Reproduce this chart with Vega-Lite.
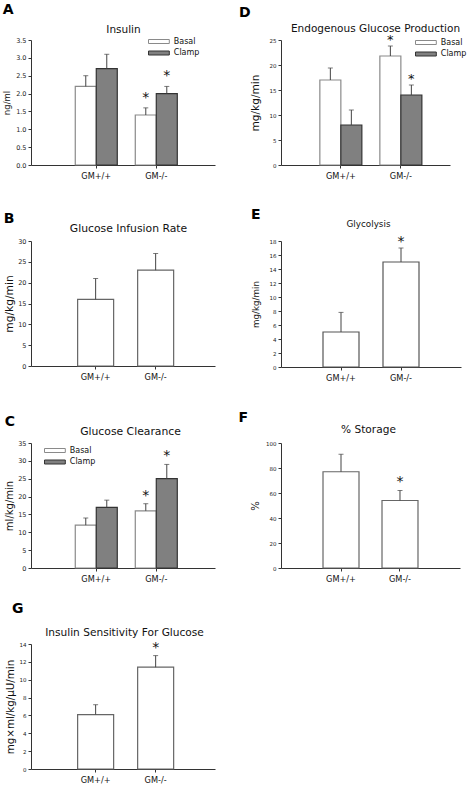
{
  "$schema": "https://vega.github.io/schema/vega-lite/v6.json",
  "padding": {"left": 2, "top": 3, "right": 0, "bottom": 0},
  "config": {
    "font": "DejaVu Sans",
    "view": {"stroke": null},
    "axis": {"grid": false, "domainColor": "#333333", "tickColor": "#333333", "tickSize": 3, "labelColor": "#222222", "titleColor": "#111111", "titleFontWeight": "normal", "labelPadding": 2},
    "axisY": {"labelOverlap": false},
    "title": {"anchor": "start", "frame": "bounds", "fontSize": 14, "fontWeight": "bold", "color": "#000000", "baseline": "alphabetic"},
    "text": {"fontSize": 14, "fill": "#111111", "baseline": "alphabetic"},
    "legend": {"title": null, "padding": 0, "labelFontSize": 8, "labelColor": "#111111", "symbolStrokeWidth": 1, "symbolSize": 64, "symbolType": "M-2.6,-0.5H2.6V0.5H-2.6Z", "rowPadding": 2.5, "labelOffset": 10.4}
  },
  "resolve": {"scale": {"fill": "independent", "stroke": "independent"}, "legend": {"fill": "independent", "stroke": "independent"}},
  "datasets": {
    "insulin": [
      {"group": "GM+/+", "cond": "Basal", "mean": 2.2, "upper": 2.5, "star": ""},
      {"group": "GM+/+", "cond": "Clamp", "mean": 2.7, "upper": 3.1, "star": ""},
      {"group": "GM-/-", "cond": "Basal", "mean": 1.4, "upper": 1.6, "star": "*"},
      {"group": "GM-/-", "cond": "Clamp", "mean": 2.0, "upper": 2.2, "star": "*"}
    ],
    "egp": [
      {"group": "GM+/+", "cond": "Basal", "mean": 17, "upper": 19.4, "star": ""},
      {"group": "GM+/+", "cond": "Clamp", "mean": 8, "upper": 11, "star": ""},
      {"group": "GM-/-", "cond": "Basal", "mean": 21.8, "upper": 23.8, "star": "*"},
      {"group": "GM-/-", "cond": "Clamp", "mean": 14, "upper": 16, "star": "*"}
    ],
    "gir": [
      {"group": "GM+/+", "mean": 16, "upper": 21, "star": ""},
      {"group": "GM-/-", "mean": 23, "upper": 27, "star": ""}
    ],
    "glycolysis": [
      {"group": "GM+/+", "mean": 5, "upper": 7.8, "star": ""},
      {"group": "GM-/-", "mean": 15, "upper": 17, "star": "*"}
    ],
    "clearance": [
      {"group": "GM+/+", "cond": "Basal", "mean": 12, "upper": 14, "star": ""},
      {"group": "GM+/+", "cond": "Clamp", "mean": 17, "upper": 19, "star": ""},
      {"group": "GM-/-", "cond": "Basal", "mean": 16, "upper": 18, "star": "*"},
      {"group": "GM-/-", "cond": "Clamp", "mean": 25, "upper": 29, "star": "*"}
    ],
    "storage": [
      {"group": "GM+/+", "mean": 77, "upper": 91, "star": ""},
      {"group": "GM-/-", "mean": 54, "upper": 62, "star": "*"}
    ],
    "isg": [
      {"group": "GM+/+", "mean": 6.1, "upper": 7.2, "star": ""},
      {"group": "GM-/-", "mean": 11.4, "upper": 12.7, "star": "*"}
    ]
  },
  "columns": 2,
  "bounds": "flush",
  "spacing": {"row": 76, "column": 66},
  "concat": [
    {
      "title": {"text": "A", "offset": 7},
      "width": 184, "height": 125,
      "data": {"name": "insulin"},
      "encoding": {"xOffset": {"field": "cond", "type": "nominal", "sort": ["Basal", "Clamp"], "scale": {"paddingInner": 0, "paddingOuter": 0}}},
      "layer": [
        {"mark": {"type": "bar", "strokeWidth": 1.2},
         "encoding": {
           "x": {"field": "group", "type": "nominal", "sort": ["GM+/+", "GM-/-"], "scale": {"paddingInner": 0.3, "paddingOuter": 0.683, "align": 0.54}, "axis": {"title": null, "labelAngle": 0, "labelFontSize": 8.2, "labelPadding": 4, "labelColor": "#111111"}},
           "y": {"field": "mean", "type": "quantitative", "scale": {"domain": [0, 3.5], "nice": false}, "axis": {"title": "ng/ml", "titleFontSize": 8.5, "titlePadding": 4, "values": [0, 0.5, 1, 1.5, 2, 2.5, 3, 3.5], "format": ".1f", "labelFontSize": 6.5}},
           "fill": {"field": "cond", "type": "nominal", "scale": {"domain": ["Basal", "Clamp"], "range": ["#ffffff", "#808080"]}, "legend": {"orient": "none", "legendX": 123.4, "legendY": -3}},
           "stroke": {"field": "cond", "type": "nominal", "scale": {"domain": ["Basal", "Clamp"], "range": ["#8a8a8a", "#333333"]}, "legend": {"orient": "none", "legendX": 123.4, "legendY": -3}}
         }},
        {"mark": {"type": "rule", "color": "#444444"},
         "encoding": {"x": {"field": "group", "type": "nominal", "sort": ["GM+/+", "GM-/-"], "axis": null}, "y": {"field": "mean", "type": "quantitative", "scale": {"domain": [0, 3.5], "nice": false}, "axis": {"title": "ng/ml", "titleFontSize": 8.5, "titlePadding": 4, "values": [0, 0.5, 1, 1.5, 2, 2.5, 3, 3.5], "format": ".1f", "labelFontSize": 6.5}}, "y2": {"field": "upper"}}},
        {"mark": {"type": "tick", "orient": "horizontal", "size": 5, "thickness": 1, "color": "#444444"},
         "encoding": {"x": {"field": "group", "type": "nominal", "sort": ["GM+/+", "GM-/-"], "axis": null}, "y": {"field": "upper", "type": "quantitative", "scale": {"domain": [0, 3.5], "nice": false}, "axis": {"title": "ng/ml", "titleFontSize": 8.5, "titlePadding": 4, "values": [0, 0.5, 1, 1.5, 2, 2.5, 3, 3.5], "format": ".1f", "labelFontSize": 6.5}}}},
        {"mark": {"type": "text", "dy": -6},
         "encoding": {"x": {"field": "group", "type": "nominal", "sort": ["GM+/+", "GM-/-"], "axis": {"orient": "top", "domain": false, "ticks": false, "labels": false, "title": "Insulin", "titleFontSize": 10.5, "titlePadding": 6}}, "y": {"field": "upper", "type": "quantitative", "scale": {"domain": [0, 3.5], "nice": false}, "axis": {"title": "ng/ml", "titleFontSize": 8.5, "titlePadding": 4, "values": [0, 0.5, 1, 1.5, 2, 2.5, 3, 3.5], "format": ".1f", "labelFontSize": 6.5}}, "text": {"field": "star"}}}
      ],
      "resolve": {"axis": {"x": "independent"}}
    },
    {
      "title": {"text": "D", "offset": 3, "dx": -11},
      "width": 169, "height": 125,
      "data": {"name": "egp"},
      "encoding": {"xOffset": {"field": "cond", "type": "nominal", "sort": ["Basal", "Clamp"], "scale": {"paddingInner": 0, "paddingOuter": 0}}},
      "layer": [
        {"mark": {"type": "bar", "strokeWidth": 1.2},
         "encoding": {
           "x": {"field": "group", "type": "nominal", "sort": ["GM+/+", "GM-/-"], "scale": {"paddingInner": 0.3, "paddingOuter": 0.558, "align": 0.58}, "axis": {"title": null, "labelAngle": 0, "labelFontSize": 8.2, "labelPadding": 4, "labelColor": "#111111"}},
           "y": {"field": "mean", "type": "quantitative", "scale": {"domain": [0, 25], "nice": false}, "axis": {"title": "mg/kg/min", "titleFontSize": 10.6, "titlePadding": 9, "values": [0, 5, 10, 15, 20, 25], "labelFontSize": 5.5}},
           "fill": {"field": "cond", "type": "nominal", "scale": {"domain": ["Basal", "Clamp"], "range": ["#ffffff", "#808080"]}, "legend": {"orient": "none", "legendX": 140.4, "legendY": -2}},
           "stroke": {"field": "cond", "type": "nominal", "scale": {"domain": ["Basal", "Clamp"], "range": ["#8a8a8a", "#333333"]}, "legend": {"orient": "none", "legendX": 140.4, "legendY": -2}}
         }},
        {"mark": {"type": "rule", "color": "#444444"},
         "encoding": {"x": {"field": "group", "type": "nominal", "sort": ["GM+/+", "GM-/-"], "axis": null}, "y": {"field": "mean", "type": "quantitative", "scale": {"domain": [0, 25], "nice": false}, "axis": {"title": "mg/kg/min", "titleFontSize": 10.6, "titlePadding": 9, "values": [0, 5, 10, 15, 20, 25], "labelFontSize": 5.5}}, "y2": {"field": "upper"}}},
        {"mark": {"type": "tick", "orient": "horizontal", "size": 5, "thickness": 1, "color": "#444444"},
         "encoding": {"x": {"field": "group", "type": "nominal", "sort": ["GM+/+", "GM-/-"], "axis": null}, "y": {"field": "upper", "type": "quantitative", "scale": {"domain": [0, 25], "nice": false}, "axis": {"title": "mg/kg/min", "titleFontSize": 10.6, "titlePadding": 9, "values": [0, 5, 10, 15, 20, 25], "labelFontSize": 5.5}}}},
        {"mark": {"type": "text", "fontSize": 13, "dy": -2},
         "encoding": {"x": {"field": "group", "type": "nominal", "sort": ["GM+/+", "GM-/-"], "axis": {"orient": "top", "domain": false, "ticks": false, "labels": false, "title": "Endogenous Glucose Production", "titleFontSize": 10.5, "titlePadding": 7, "titleX": 94}}, "y": {"field": "upper", "type": "quantitative", "scale": {"domain": [0, 25], "nice": false}, "axis": {"title": "mg/kg/min", "titleFontSize": 10.6, "titlePadding": 9, "values": [0, 5, 10, 15, 20, 25], "labelFontSize": 5.5}}, "text": {"field": "star"}}}
      ],
      "resolve": {"axis": {"x": "independent"}}
    },
    {
      "title": {"text": "B", "offset": -4},
      "width": 184, "height": 125,
      "data": {"name": "gir"},
      "layer": [
        {"mark": {"type": "bar", "strokeWidth": 1.2, "fill": "#ffffff", "stroke": "#666666"},
         "encoding": {
           "x": {"field": "group", "type": "nominal", "sort": ["GM+/+", "GM-/-"], "scale": {"paddingInner": 0.4, "paddingOuter": 0.733, "align": 0.53}, "axis": {"title": null, "labelAngle": 0, "labelFontSize": 8.2, "labelPadding": 4, "labelColor": "#111111"}},
           "y": {"field": "mean", "type": "quantitative", "scale": {"domain": [0, 30], "nice": false}, "axis": {"title": "mg/kg/min", "titleFontSize": 10.7, "titlePadding": 3, "values": [0, 5, 10, 15, 20, 25, 30], "labelFontSize": 6.5}}
         }},
        {"mark": {"type": "rule", "color": "#444444"},
         "encoding": {"x": {"field": "group", "type": "nominal", "sort": ["GM+/+", "GM-/-"], "axis": null}, "y": {"field": "mean", "type": "quantitative", "scale": {"domain": [0, 30], "nice": false}, "axis": {"title": "mg/kg/min", "titleFontSize": 10.7, "titlePadding": 3, "values": [0, 5, 10, 15, 20, 25, 30], "labelFontSize": 6.5}}, "y2": {"field": "upper"}}},
        {"mark": {"type": "tick", "orient": "horizontal", "size": 5, "thickness": 1, "color": "#444444"},
         "encoding": {"x": {"field": "group", "type": "nominal", "sort": ["GM+/+", "GM-/-"], "axis": null}, "y": {"field": "upper", "type": "quantitative", "scale": {"domain": [0, 30], "nice": false}, "axis": {"title": "mg/kg/min", "titleFontSize": 10.7, "titlePadding": 3, "values": [0, 5, 10, 15, 20, 25, 30], "labelFontSize": 6.5}}}},
        {"mark": {"type": "text", "dy": -4},
         "encoding": {"x": {"field": "group", "type": "nominal", "sort": ["GM+/+", "GM-/-"], "axis": {"orient": "top", "domain": false, "ticks": false, "labels": false, "title": "Glucose Infusion Rate", "titleFontSize": 10.8, "titlePadding": 8, "titleX": 97}}, "y": {"field": "upper", "type": "quantitative", "scale": {"domain": [0, 30], "nice": false}, "axis": {"title": "mg/kg/min", "titleFontSize": 10.7, "titlePadding": 3, "values": [0, 5, 10, 15, 20, 25, 30], "labelFontSize": 6.5}}, "text": {"field": "star"}}}
      ],
      "resolve": {"axis": {"x": "independent"}}
    },
    {
      "title": {"text": "E", "offset": -3},
      "width": 180, "height": 126,
      "data": {"name": "glycolysis"},
      "layer": [
        {"mark": {"type": "bar", "strokeWidth": 1.2, "fill": "#ffffff", "stroke": "#555555"},
         "encoding": {
           "x": {"field": "group", "type": "nominal", "sort": ["GM+/+", "GM-/-"], "scale": {"paddingInner": 0.4, "paddingOuter": 0.7}, "axis": {"title": null, "labelAngle": 0, "labelFontSize": 8.2, "labelPadding": 4, "labelColor": "#111111"}},
           "y": {"field": "mean", "type": "quantitative", "scale": {"domain": [0, 18], "nice": false}, "axis": {"title": "mg/kg/min", "titleFontSize": 8.7, "titlePadding": 9, "values": [0, 2, 4, 6, 8, 10, 12, 14, 16, 18], "labelFontSize": 5.5}}
         }},
        {"mark": {"type": "rule", "color": "#444444"},
         "encoding": {"x": {"field": "group", "type": "nominal", "sort": ["GM+/+", "GM-/-"], "axis": null}, "y": {"field": "mean", "type": "quantitative", "scale": {"domain": [0, 18], "nice": false}, "axis": {"title": "mg/kg/min", "titleFontSize": 8.7, "titlePadding": 9, "values": [0, 2, 4, 6, 8, 10, 12, 14, 16, 18], "labelFontSize": 5.5}}, "y2": {"field": "upper"}}},
        {"mark": {"type": "tick", "orient": "horizontal", "size": 5, "thickness": 1, "color": "#444444"},
         "encoding": {"x": {"field": "group", "type": "nominal", "sort": ["GM+/+", "GM-/-"], "axis": null}, "y": {"field": "upper", "type": "quantitative", "scale": {"domain": [0, 18], "nice": false}, "axis": {"title": "mg/kg/min", "titleFontSize": 8.7, "titlePadding": 9, "values": [0, 2, 4, 6, 8, 10, 12, 14, 16, 18], "labelFontSize": 5.5}}}},
        {"mark": {"type": "text", "dy": -2},
         "encoding": {"x": {"field": "group", "type": "nominal", "sort": ["GM+/+", "GM-/-"], "axis": {"orient": "top", "domain": false, "ticks": false, "labels": false, "title": "Glycolysis", "titleFontSize": 8.8, "titlePadding": 13, "titleX": 87}}, "y": {"field": "upper", "type": "quantitative", "scale": {"domain": [0, 18], "nice": false}, "axis": {"title": "mg/kg/min", "titleFontSize": 8.7, "titlePadding": 9, "values": [0, 2, 4, 6, 8, 10, 12, 14, 16, 18], "labelFontSize": 5.5}}, "text": {"field": "star"}}}
      ],
      "resolve": {"axis": {"x": "independent"}}
    },
    {
      "title": {"text": "C", "offset": -4},
      "width": 184, "height": 125,
      "data": {"name": "clearance"},
      "encoding": {"xOffset": {"field": "cond", "type": "nominal", "sort": ["Basal", "Clamp"], "scale": {"paddingInner": 0, "paddingOuter": 0}}},
      "layer": [
        {"mark": {"type": "bar", "strokeWidth": 1.2},
         "encoding": {
           "x": {"field": "group", "type": "nominal", "sort": ["GM+/+", "GM-/-"], "scale": {"paddingInner": 0.3, "paddingOuter": 0.683, "align": 0.54}, "axis": {"title": null, "labelAngle": 0, "labelFontSize": 8.2, "labelPadding": 4, "labelColor": "#111111"}},
           "y": {"field": "mean", "type": "quantitative", "scale": {"domain": [0, 35], "nice": false}, "axis": {"title": "ml/kg/min", "titleFontSize": 10, "titlePadding": 3, "values": [0, 5, 10, 15, 20, 25, 30, 35], "labelFontSize": 6.5}},
           "fill": {"field": "cond", "type": "nominal", "scale": {"domain": ["Basal", "Clamp"], "range": ["#ffffff", "#808080"]}, "legend": {"orient": "none", "legendX": 19.4, "legendY": 3}},
           "stroke": {"field": "cond", "type": "nominal", "scale": {"domain": ["Basal", "Clamp"], "range": ["#8a8a8a", "#333333"]}, "legend": {"orient": "none", "legendX": 19.4, "legendY": 3}}
         }},
        {"mark": {"type": "rule", "color": "#444444"},
         "encoding": {"x": {"field": "group", "type": "nominal", "sort": ["GM+/+", "GM-/-"], "axis": null}, "y": {"field": "mean", "type": "quantitative", "scale": {"domain": [0, 35], "nice": false}, "axis": {"title": "ml/kg/min", "titleFontSize": 10, "titlePadding": 3, "values": [0, 5, 10, 15, 20, 25, 30, 35], "labelFontSize": 6.5}}, "y2": {"field": "upper"}}},
        {"mark": {"type": "tick", "orient": "horizontal", "size": 5, "thickness": 1, "color": "#444444"},
         "encoding": {"x": {"field": "group", "type": "nominal", "sort": ["GM+/+", "GM-/-"], "axis": null}, "y": {"field": "upper", "type": "quantitative", "scale": {"domain": [0, 35], "nice": false}, "axis": {"title": "ml/kg/min", "titleFontSize": 10, "titlePadding": 3, "values": [0, 5, 10, 15, 20, 25, 30, 35], "labelFontSize": 6.5}}}},
        {"mark": {"type": "text", "dy": -4},
         "encoding": {"x": {"field": "group", "type": "nominal", "sort": ["GM+/+", "GM-/-"], "axis": {"orient": "top", "domain": false, "ticks": false, "labels": false, "title": "Glucose Clearance", "titleFontSize": 10.8, "titlePadding": 7, "titleX": 99}}, "y": {"field": "upper", "type": "quantitative", "scale": {"domain": [0, 35], "nice": false}, "axis": {"title": "ml/kg/min", "titleFontSize": 10, "titlePadding": 3, "values": [0, 5, 10, 15, 20, 25, 30, 35], "labelFontSize": 6.5}}, "text": {"field": "star"}}}
      ],
      "resolve": {"axis": {"x": "independent"}}
    },
    {
      "title": {"text": "F", "offset": -1, "dx": -12},
      "width": 179, "height": 125,
      "data": {"name": "storage"},
      "layer": [
        {"mark": {"type": "bar", "strokeWidth": 1.2, "fill": "#ffffff", "stroke": "#666666"},
         "encoding": {
           "x": {"field": "group", "type": "nominal", "sort": ["GM+/+", "GM-/-"], "scale": {"paddingInner": 0.39, "paddingOuter": 0.712}, "axis": {"title": null, "labelAngle": 0, "labelFontSize": 8.2, "labelPadding": 4, "labelColor": "#111111"}},
           "y": {"field": "mean", "type": "quantitative", "scale": {"domain": [0, 100], "nice": false}, "axis": {"title": "%", "titleFontSize": 10, "titlePadding": 5, "values": [0, 20, 40, 60, 80, 100], "labelFontSize": 5.5}}
         }},
        {"mark": {"type": "rule", "color": "#444444"},
         "encoding": {"x": {"field": "group", "type": "nominal", "sort": ["GM+/+", "GM-/-"], "axis": null}, "y": {"field": "mean", "type": "quantitative", "scale": {"domain": [0, 100], "nice": false}, "axis": {"title": "%", "titleFontSize": 10, "titlePadding": 5, "values": [0, 20, 40, 60, 80, 100], "labelFontSize": 5.5}}, "y2": {"field": "upper"}}},
        {"mark": {"type": "tick", "orient": "horizontal", "size": 5, "thickness": 1, "color": "#444444"},
         "encoding": {"x": {"field": "group", "type": "nominal", "sort": ["GM+/+", "GM-/-"], "axis": null}, "y": {"field": "upper", "type": "quantitative", "scale": {"domain": [0, 100], "nice": false}, "axis": {"title": "%", "titleFontSize": 10, "titlePadding": 5, "values": [0, 20, 40, 60, 80, 100], "labelFontSize": 5.5}}}},
        {"mark": {"type": "text", "dy": -5},
         "encoding": {"x": {"field": "group", "type": "nominal", "sort": ["GM+/+", "GM-/-"], "axis": {"orient": "top", "domain": false, "ticks": false, "labels": false, "title": "% Storage", "titleFontSize": 10.6, "titlePadding": 9, "titleX": 87}}, "y": {"field": "upper", "type": "quantitative", "scale": {"domain": [0, 100], "nice": false}, "axis": {"title": "%", "titleFontSize": 10, "titlePadding": 5, "values": [0, 20, 40, 60, 80, 100], "labelFontSize": 5.5}}, "text": {"field": "star"}}}
      ],
      "resolve": {"axis": {"x": "independent"}}
    },
    {
      "title": {"text": "G", "offset": 11, "dx": 7},
      "width": 184, "height": 125,
      "data": {"name": "isg"},
      "layer": [
        {"mark": {"type": "bar", "strokeWidth": 1.2, "fill": "#ffffff", "stroke": "#666666"},
         "encoding": {
           "x": {"field": "group", "type": "nominal", "sort": ["GM+/+", "GM-/-"], "scale": {"paddingInner": 0.4, "paddingOuter": 0.733, "align": 0.53}, "axis": {"title": null, "labelAngle": 0, "labelFontSize": 8.2, "labelPadding": 4, "labelColor": "#111111"}},
           "y": {"field": "mean", "type": "quantitative", "scale": {"domain": [0, 14], "nice": false}, "axis": {"title": "mg×ml/kg/μU/min", "titleFontSize": 10.3, "titlePadding": 4, "values": [0, 2, 4, 6, 8, 10, 12, 14], "labelFontSize": 5.5}}
         }},
        {"mark": {"type": "rule", "color": "#444444"},
         "encoding": {"x": {"field": "group", "type": "nominal", "sort": ["GM+/+", "GM-/-"], "axis": null}, "y": {"field": "mean", "type": "quantitative", "scale": {"domain": [0, 14], "nice": false}, "axis": {"title": "mg×ml/kg/μU/min", "titleFontSize": 10.3, "titlePadding": 4, "values": [0, 2, 4, 6, 8, 10, 12, 14], "labelFontSize": 5.5}}, "y2": {"field": "upper"}}},
        {"mark": {"type": "tick", "orient": "horizontal", "size": 5, "thickness": 1, "color": "#444444"},
         "encoding": {"x": {"field": "group", "type": "nominal", "sort": ["GM+/+", "GM-/-"], "axis": null}, "y": {"field": "upper", "type": "quantitative", "scale": {"domain": [0, 14], "nice": false}, "axis": {"title": "mg×ml/kg/μU/min", "titleFontSize": 10.3, "titlePadding": 4, "values": [0, 2, 4, 6, 8, 10, 12, 14], "labelFontSize": 5.5}}}},
        {"mark": {"type": "text", "dy": -4},
         "encoding": {"x": {"field": "group", "type": "nominal", "sort": ["GM+/+", "GM-/-"], "axis": {"orient": "top", "domain": false, "ticks": false, "labels": false, "title": "Insulin Sensitivity For Glucose", "titleFontSize": 10.6, "titlePadding": 7, "titleX": 93}}, "y": {"field": "upper", "type": "quantitative", "scale": {"domain": [0, 14], "nice": false}, "axis": {"title": "mg×ml/kg/μU/min", "titleFontSize": 10.3, "titlePadding": 4, "values": [0, 2, 4, 6, 8, 10, 12, 14], "labelFontSize": 5.5}}, "text": {"field": "star"}}}
      ],
      "resolve": {"axis": {"x": "independent"}}
    }
  ]
}
